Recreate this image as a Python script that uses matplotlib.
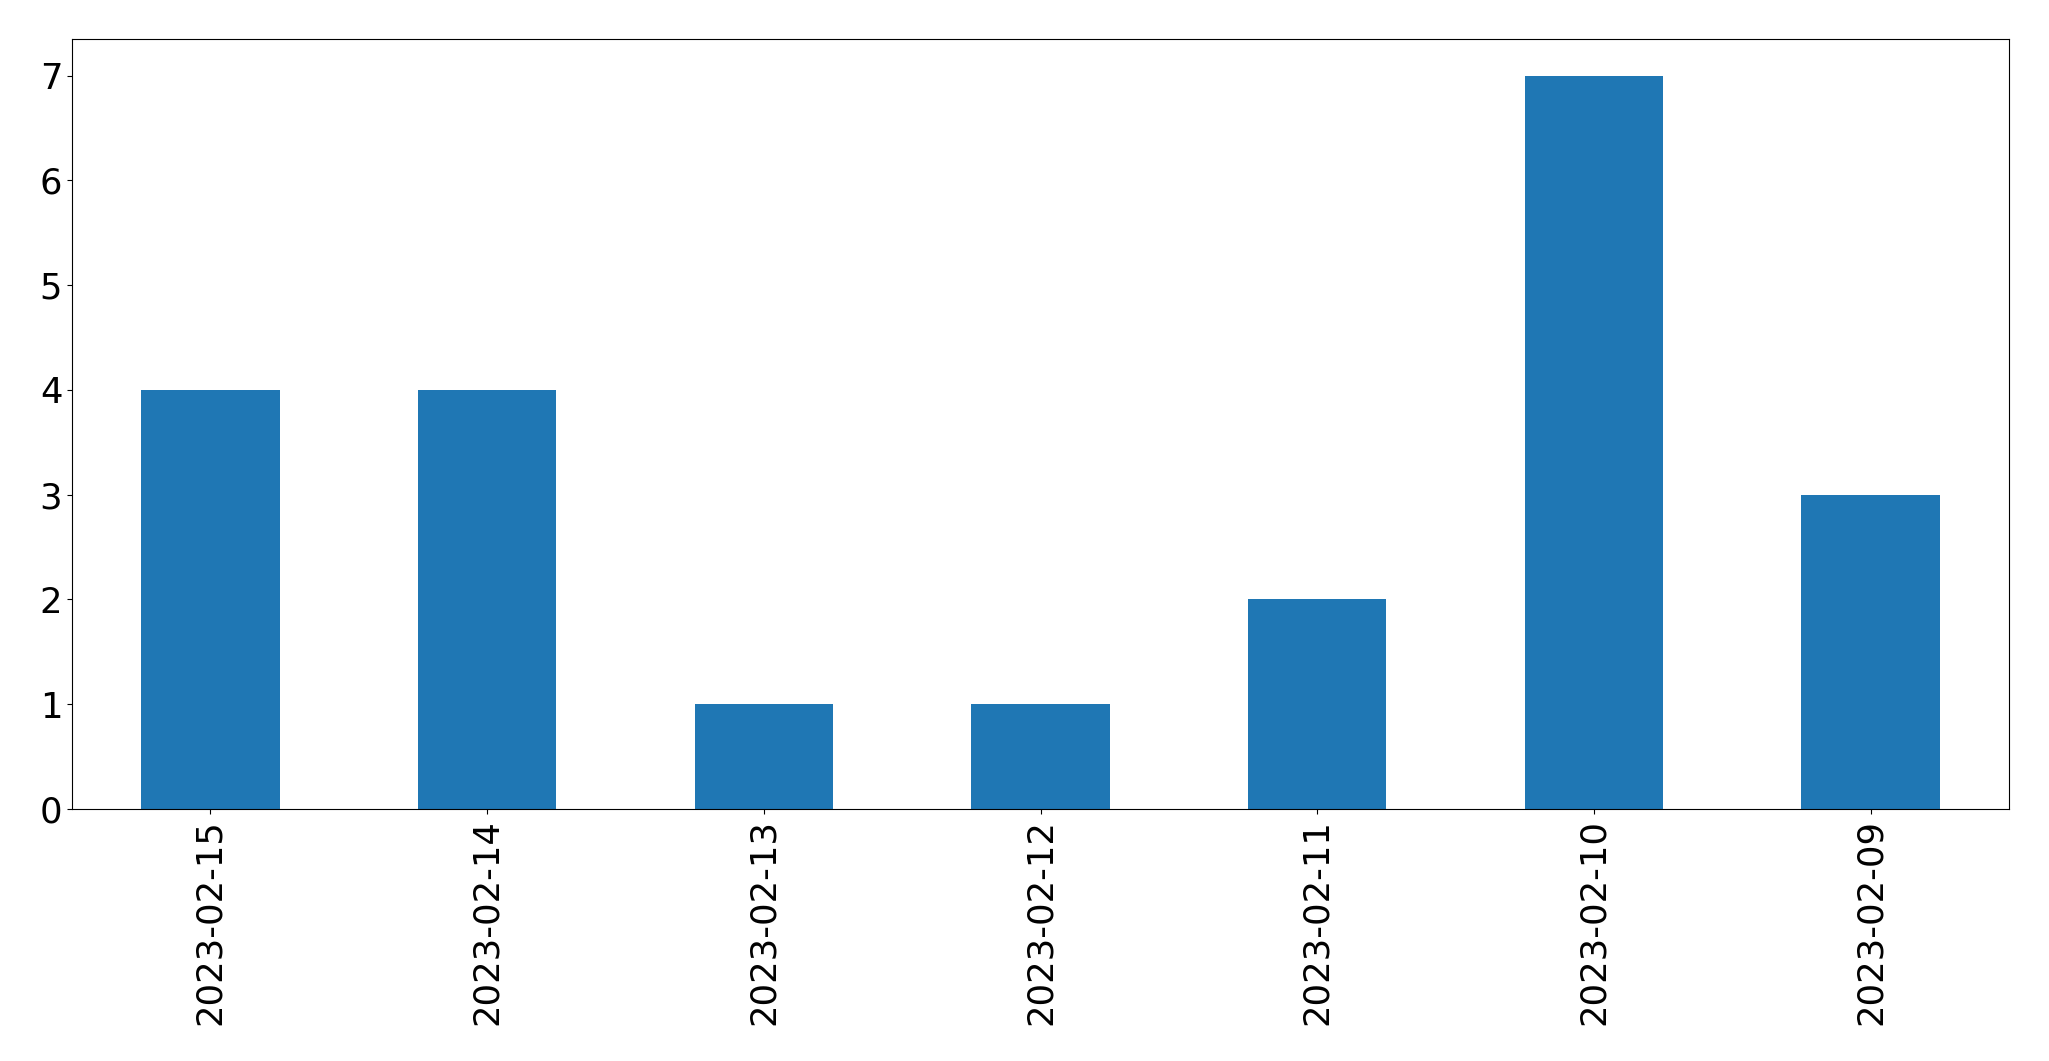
import matplotlib
matplotlib.use("Agg")
import matplotlib.pyplot as plt

dates = ["2023-02-15", "2023-02-14", "2023-02-13", "2023-02-12", "2023-02-11", "2023-02-10", "2023-02-09"]
counts = [4, 4, 1, 1, 2, 7, 3]

fig = plt.figure(figsize=(20.49, 10.61), dpi=100)
ax = fig.add_axes([72/2049, 1-809/1061, (2009-72)/2049, (809-39)/1061])
x = list(range(len(dates)))
ax.bar(x, counts, width=0.5, color="#1f77b4")
ax.set_xlim(-0.5, len(dates)-0.5)
ax.set_ylim(0, 7.35)
ax.set_xticks(x)
ax.set_xticklabels(dates, rotation=90)
ax.tick_params(labelsize=25.5)
fig.savefig("out.png", dpi=100)
